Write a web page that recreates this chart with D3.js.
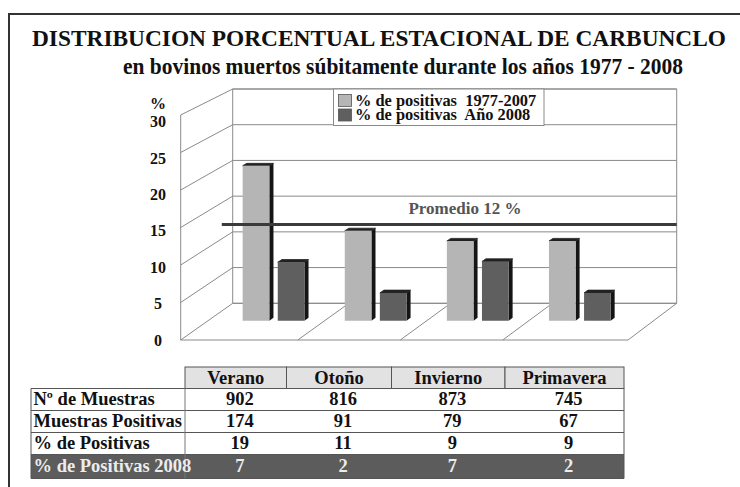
<!DOCTYPE html>
<html>
<head>
<meta charset="utf-8">
<title>Carbunclo estacional</title>
<style>
    html, body {
        margin: 0;
        background: #fff;
    }
    svg text {
        font-family: "Liberation Serif", "Times New Roman", serif;
        font-weight: bold;
    }
</style>
</head>
<body>
<svg id="chart" width="740" height="487"></svg>

<script src="https://cdn.jsdelivr.net/npm/d3@7"></script>
<script>
    "use strict";

    // chart data
    const estaciones = ["Verano", "Otoño", "Invierno", "Primavera"];
    const series = ["% de positivas  1977-2007", "% de positivas  Año 2008"];
    const positivas7707 = [21.2, 12.3, 10.9, 10.9];
    const positivas2008 = [8.0, 3.8, 8.1, 3.8];
    const promedio = 12;
    const yTicks = [0, 5, 10, 15, 20, 25, 30];

    // table data
    const filas = ["Nº de Muestras", "Muestras Positivas", "% de Positivas", "% de Positivas 2008"];
    const nMuestras = [902, 816, 873, 745];
    const muestrasPositivas = [174, 91, 79, 67];
    const pctPositivas = [19, 11, 9, 9];
    const pctPositivas2008 = [7, 2, 7, 2];

    const colors = ["#b5b5b5", "#5f5f5f"];
    const gridColor = "#8a8a8a";

    const svg = d3.select("#chart");

    // frame
    svg.append("path")
        .attr("d", "M742,14 L9,14 L9,490")
        .attr("fill", "none")
        .attr("stroke", "#333")
        .attr("stroke-width", 2);

    // titles
    svg.append("text")
        .attr("x", 379).attr("y", 46)
        .attr("text-anchor", "middle")
        .attr("font-size", 23)
        .attr("textLength", 694)
        .attr("lengthAdjust", "spacingAndGlyphs")
        .attr("fill", "#111")
        .text("DISTRIBUCION PORCENTUAL ESTACIONAL DE CARBUNCLO");
    svg.append("text")
        .attr("x", 403).attr("y", 74)
        .attr("text-anchor", "middle")
        .attr("font-size", 22.5)
        .attr("textLength", 560)
        .attr("lengthAdjust", "spacingAndGlyphs")
        .attr("fill", "#111")
        .text("en bovinos muertos súbitamente durante los años 1977 - 2008");

    // 3d projection: front plane (z=0) and back plane (z=1)
    const yFront = d3.scaleLinear().domain([0, 30]).range([340, 115]),
        yBack = d3.scaleLinear().domain([0, 30]).range([303.3, 89]),
        xFront = d3.scaleLinear().domain([0, 1]).range([180.7, 628]),
        xBack = d3.scaleLinear().domain([0, 1]).range([232.7, 676.7]),
        xLeft = xFront(0), xRight = xFront(1);

    function proj(x, v, z) {
        const u = xFront.invert(x);
        return [xFront(u) + (xBack(u) - xFront(u)) * z,
                yFront(v) + (yBack(v) - yFront(v)) * z];
    }

    const line = d3.line();
    const g = svg.append("g");

    // back wall
    g.append("path")
        .attr("d", line([proj(xLeft, 0, 1), proj(xRight, 0, 1), proj(xRight, 30, 1), proj(xLeft, 30, 1)]) + "Z")
        .attr("fill", "#fff")
        .attr("stroke", gridColor);
    g.selectAll(".grid")
        .data(yTicks)
        .join("path")
        .attr("class", "grid")
        .attr("d", d => line([proj(xLeft, d, 0), proj(xLeft, d, 1), proj(xRight, d, 1)]))
        .attr("fill", "none")
        .attr("stroke", gridColor)
        .attr("stroke-width", 1);

    // left wall front edge
    g.append("path")
        .attr("d", line([proj(xLeft, 0, 0), proj(xLeft, 30, 0)]))
        .attr("stroke", gridColor);

    // floor
    const xCat = d3.scaleBand().domain(estaciones).range([195.25, 605.25]);
    const floorDiv = estaciones.slice(1).map(d => xCat(d));
    g.append("path")
        .attr("d", line([proj(xLeft, 0, 0), proj(xRight, 0, 0), proj(xRight, 0, 1)]))
        .attr("fill", "none")
        .attr("stroke", gridColor);
    g.selectAll(".div")
        .data(floorDiv)
        .join("path")
        .attr("class", "div")
        .attr("d", d => line([proj(d, 0, 0), proj(d, 0, 1)]))
        .attr("stroke", gridColor);

    // y labels
    const yLabel = d3.scaleLinear().domain([0, 30]).range([340, 121.7]);
    g.selectAll(".ylab")
        .data(yTicks)
        .join("text")
        .attr("class", "ylab")
        .attr("x", 158)
        .attr("y", d => yLabel(d))
        .attr("dy", "0.35em")
        .attr("text-anchor", "middle")
        .attr("font-size", 16)
        .attr("fill", "#111")
        .text(d => d);
    g.append("text")
        .attr("x", 158).attr("y", yLabel(30) - 18)
        .attr("dy", "0.35em")
        .attr("text-anchor", "middle")
        .attr("font-size", 16)
        .attr("fill", "#111")
        .text("%");

    // bars
    const zBar = 0.525, zBar2 = 0.605;
    const xSer = d3.scaleBand().domain(series).range([0, 62]).paddingInner(0.24);
    const bars = [];
    estaciones.forEach((e, i) => {
        [positivas7707[i], positivas2008[i]].forEach((v, s) => {
            const x0 = xCat(e) + (xCat.bandwidth() - 62) / 2 + xSer(series[s]);
            bars.push({x0: x0, x1: x0 + xSer.bandwidth(), v: v, s: s});
        });
    });

    const barG = g.selectAll(".bar")
        .data(bars)
        .join("g")
        .attr("class", "bar");
    barG.append("path")
        .attr("d", d => line([proj(d.x1, 0, zBar), proj(d.x1, 0, zBar2), proj(d.x1, d.v, zBar2), proj(d.x1, d.v, zBar)]) + "Z")
        .attr("fill", "#151515");
    barG.append("path")
        .attr("d", d => line([proj(d.x0, d.v, zBar), proj(d.x1, d.v, zBar), proj(d.x1, d.v, zBar2), proj(d.x0, d.v, zBar2)]) + "Z")
        .attr("fill", "#222")
        .attr("stroke", "#222")
        .attr("stroke-width", 0.8);
    barG.append("path")
        .attr("d", d => line([proj(d.x0, 0, zBar), proj(d.x1, 0, zBar), proj(d.x1, d.v, zBar), proj(d.x0, d.v, zBar)]) + "Z")
        .attr("fill", d => colors[d.s]);

    // promedio line
    const zProm = 0.79;
    const pStart = proj(xLeft, promedio, zProm);
    g.append("path")
        .attr("d", line([pStart, [xBack(1), pStart[1]]]))
        .attr("stroke", "#3a3a3a")
        .attr("stroke-width", 3);
    g.append("text")
        .attr("x", 465).attr("y", pStart[1] - 10)
        .attr("text-anchor", "middle")
        .attr("font-size", 17)
        .attr("fill", "#555")
        .text("Promedio " + promedio + " %");

    // legend
    const leg = svg.append("g");
    leg.append("rect")
        .attr("x", 333.5).attr("y", 89)
        .attr("width", 210.5).attr("height", 36.5)
        .attr("fill", "#fff")
        .attr("stroke", gridColor);
    series.forEach((s, i) => {
        leg.append("rect")
            .attr("x", 338.5).attr("y", 94.5 + i * 14.5)
            .attr("width", 13).attr("height", 12)
            .attr("fill", colors[i])
            .attr("stroke", "#555")
            .attr("stroke-width", 0.8);
        leg.append("text")
            .attr("x", 355).attr("y", 105.5 + i * 14.5)
            .attr("font-size", 16.4)
            .attr("fill", "#111")
            .style("white-space", "pre")
            .attr("xml:space", "preserve")
            .text(s);
    });

    // table
    const colEdges = [185, 286.5, 391.5, 505, 624];
    const tabLeft = 31, headTop = 367, rowH = 22;
    const tabla = [nMuestras, muestrasPositivas, pctPositivas, pctPositivas2008];
    const t = svg.append("g");

    // header
    t.selectAll(".hcell")
        .data(estaciones)
        .join("rect")
        .attr("class", "hcell")
        .attr("x", (d, i) => colEdges[i])
        .attr("y", headTop)
        .attr("width", (d, i) => colEdges[i + 1] - colEdges[i])
        .attr("height", rowH - 0.5)
        .attr("fill", "#e2e2e2")
        .attr("stroke", "#555");
    t.selectAll(".htext")
        .data(estaciones)
        .join("text")
        .attr("class", "htext")
        .attr("x", (d, i) => (colEdges[i] + colEdges[i + 1]) / 2)
        .attr("y", headTop + 16.5)
        .attr("text-anchor", "middle")
        .attr("font-size", 18.5)
        .attr("fill", "#111")
        .text(d => d);

    const bodyTop = headTop + rowH - 0.5;
    const rowY = i => bodyTop + i * rowH;
    const last = filas.length - 1;

    t.append("rect")
        .attr("x", tabLeft).attr("y", rowY(last))
        .attr("width", colEdges[4] - tabLeft).attr("height", rowH + 2)
        .attr("fill", "#5c5c5c");
    t.selectAll(".hline")
        .data(d3.range(filas.length))
        .join("line")
        .attr("class", "hline")
        .attr("x1", tabLeft).attr("x2", colEdges[4])
        .attr("y1", d => rowY(d)).attr("y2", d => rowY(d))
        .attr("stroke", "#555");
    t.append("path")
        .attr("d", line([[tabLeft, rowY(0)], [tabLeft, rowY(last) + rowH + 2], [colEdges[4], rowY(last) + rowH + 2], [colEdges[4], rowY(0)]]))
        .attr("fill", "none")
        .attr("stroke", "#555");
    t.append("line")
        .attr("x1", colEdges[0]).attr("x2", colEdges[0])
        .attr("y1", rowY(0)).attr("y2", rowY(last) + rowH + 2)
        .attr("stroke", "#777");

    filas.forEach((f, r) => {
        const col = r === last ? "#ececec" : "#111";
        t.append("text")
            .attr("x", tabLeft + 2.5)
            .attr("y", rowY(r) + 16.5 + (r === last ? 1 : 0))
            .attr("font-size", 18.5)
            .attr("fill", col)
            .text(f);
        t.selectAll(".v" + r)
            .data(tabla[r])
            .join("text")
            .attr("x", (d, i) => (colEdges[i] + colEdges[i + 1]) / 2 + 4)
            .attr("y", rowY(r) + 16.5 + (r === last ? 1 : 0))
            .attr("text-anchor", "middle")
            .attr("font-size", 18.5)
            .attr("fill", col)
            .text(d => d);
    });
</script>
</body>
</html>
